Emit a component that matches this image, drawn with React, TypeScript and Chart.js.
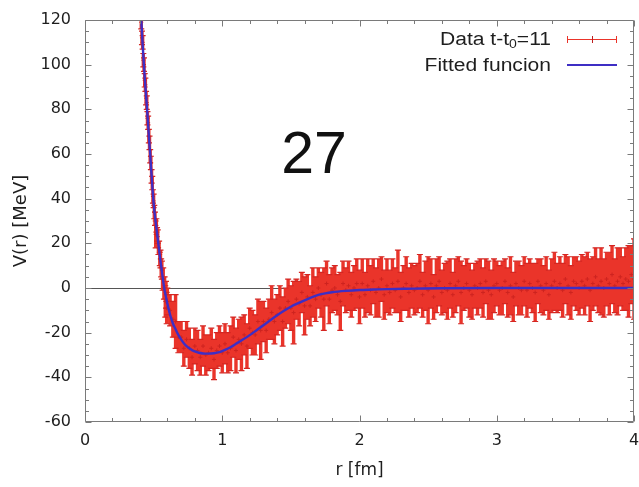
import React, { useEffect, useRef } from "react";
import { Chart, registerables } from "chart.js";

Chart.register(...registerables);

// ---------- data ----------
const xTickValues = [0, 1, 2, 3, 4];
const yTickValues = [-60, -40, -20, 0, 20, 40, 60, 80, 100, 120];

// lattice data points r [fm]
const rData = [
  0.41, 0.415, 0.42, 0.425, 0.43, 0.435, 0.44, 0.445, 0.45, 0.455,
  0.46, 0.465, 0.47, 0.475, 0.48, 0.485, 0.49, 0.495, 0.5, 0.505,
  0.51, 0.515, 0.52, 0.525, 0.53, 0.535, 0.54, 0.545, 0.55, 0.555,
  0.56, 0.565, 0.57, 0.575, 0.58, 0.585, 0.59, 0.595, 0.6,
  0.62, 0.64, 0.66, 0.68, 0.7, 0.72, 0.74, 0.76, 0.78, 0.8,
  0.82, 0.84, 0.86, 0.88, 0.9, 0.92, 0.94, 0.96, 0.98, 1.0,
  1.02, 1.04, 1.06, 1.08, 1.1, 1.12, 1.14, 1.16, 1.18, 1.2,
  1.22, 1.24, 1.26, 1.28, 1.3, 1.32, 1.34, 1.36, 1.38, 1.4,
  1.42, 1.44, 1.46, 1.48, 1.5, 1.52, 1.54, 1.56, 1.58, 1.6,
  1.62, 1.64, 1.66, 1.68, 1.7, 1.72, 1.74, 1.76, 1.78, 1.8,
  1.82, 1.84, 1.86, 1.88, 1.9, 1.92, 1.94, 1.96, 1.98, 2.0,
  2.02, 2.04, 2.06, 2.08, 2.1, 2.12, 2.14, 2.16, 2.18, 2.2,
  2.22, 2.24, 2.26, 2.28, 2.3, 2.32, 2.34, 2.36, 2.38, 2.4,
  2.42, 2.44, 2.46, 2.48, 2.5, 2.52, 2.54, 2.56, 2.58, 2.6,
  2.62, 2.64, 2.66, 2.68, 2.7, 2.72, 2.74, 2.76, 2.78, 2.8,
  2.82, 2.84, 2.86, 2.88, 2.9, 2.92, 2.94, 2.96, 2.98, 3.0,
  3.02, 3.04, 3.06, 3.08, 3.1, 3.12, 3.14, 3.16, 3.18, 3.2,
  3.22, 3.24, 3.26, 3.28, 3.3, 3.32, 3.34, 3.36, 3.38, 3.4,
  3.42, 3.44, 3.46, 3.48, 3.5, 3.52, 3.54, 3.56, 3.58, 3.6,
  3.62, 3.64, 3.66, 3.68, 3.7, 3.72, 3.74, 3.76, 3.78, 3.8,
  3.82, 3.84, 3.86, 3.88, 3.9, 3.92, 3.94, 3.96, 3.98, 4.0,
];

// V(r) [MeV]
const vData = [
  119, 112, 110, 102, 100, 93, 91, 85, 83, 76,
  74, 68, 65, 59, 56, 50, 47, 41, 39, 34,
  31, 24, 28, 24, 23, 18, 18, 13, 13, 9,
  8, 4, 4, 0, 0, -6, -3, -9, -6,
  -10, -14, -15, -22, -22, -27, -23, -27, -31, -26,
  -28, -31, -26, -30, -29, -27, -32, -28, -26, -29,
  -25, -29, -27, -22, -28, -23, -25, -21, -26, -18,
  -20, -21, -15, -19, -15, -19, -14, -11, -15, -12,
  -9, -15, -9, -6, -9, -11, -5, -7, -2, -8,
  -4, -8, -2, -5, 0, -3, -5, 2, -5, -1,
  0, -3, -6, 2, -1, 1, -3, 0, 2, -4,
  2, -3, 1, -1, 3, -2, 0, 4, -3, 1,
  -2, 2, -1, 3, -4, 0, 2, -2, 1, -1,
  0, 3, -3, 1, -1, 2, -4, 1, 3, -2,
  0, -1, 2, -3, 1, 3, -2, 0, 2, -1,
  -3, 1, 0, 2, -2, 3, -1, -3, 1, 2,
  -1, 0, 3, -2, 1, -4, 2, 0, -1, 3,
  -1, 2, 0, -2, 3, 1, -1, 2, -3, 1,
  3, 0, 2, -1, 4, 1, -2, 3, 2, 0,
  3, 1, 4, -1, 2, 5, 1, 3, 0, 4,
  2, 6, 1, 3, 5, 2, 4, 3, 6, 4,
];

// statistical errors [MeV]
const errData = [
  3, 3, 3, 3, 3, 3, 3, 3, 3, 3,
  3, 3, 3, 3, 3, 3, 3, 3, 3, 3,
  3, 6, 3, 3, 3, 3, 3, 3, 4, 4,
  4, 5, 5, 5, 5, 7, 6, 7, 6,
  7, 8, 12, 7, 7, 8, 8, 9, 8, 8,
  9, 8, 9, 9, 8, 9, 9, 8, 9, 9,
  9, 9, 10, 9, 10, 9, 12, 9, 10, 9,
  10, 9, 10, 13, 9, 10, 9, 12, 10, 9,
  10, 11, 9, 10, 10, 14, 9, 10, 9, 13,
  10, 9, 11, 10, 9, 10, 14, 10, 11, 10,
  10, 9, 13, 10, 10, 11, 10, 10, 11, 12,
  11, 10, 12, 11, 10, 11, 13, 10, 11, 12,
  10, 11, 10, 14, 11, 10, 12, 11, 10, 11,
  11, 12, 10, 11, 15, 11, 10, 12, 11, 10,
  11, 13, 11, 10, 12, 11, 14, 10, 11, 12,
  11, 10, 12, 11, 11, 10, 13, 11, 12, 10,
  11, 12, 10, 11, 13, 11, 10, 12, 11, 11,
  12, 11, 11, 13, 10, 12, 11, 12, 11, 12,
  13, 11, 12, 12, 11, 13, 12, 11, 12, 12,
  12, 13, 12, 14, 12, 13, 12, 15, 13, 12,
  14, 13, 12, 15, 13, 12, 14, 16, 13, 18,
];

// fitted function
const rFit = [
  0.41, 0.42, 0.43, 0.44, 0.45, 0.46, 0.47, 0.475, 0.48, 0.49,
  0.5, 0.51, 0.52, 0.53, 0.54, 0.55, 0.56, 0.57, 0.58, 0.59,
  0.6, 0.62, 0.64, 0.66, 0.68, 0.7, 0.72, 0.74, 0.76, 0.78,
  0.8, 0.83, 0.86, 0.9, 0.94, 0.98, 1.02, 1.06, 1.1, 1.15,
  1.2, 1.25, 1.3, 1.35, 1.4, 1.45, 1.5, 1.55, 1.6, 1.65,
  1.7, 1.75, 1.8, 1.9, 2.0, 2.1, 2.2, 2.4, 2.6, 3.0,
  3.5, 4.0,
];
const vFit = [
  120, 109, 99, 90, 82, 73, 64, 60, 55, 46,
  38, 32, 27, 22, 17, 12, 7.5, 3, -1, -4,
  -7, -12, -15.8, -18.5, -21, -23, -24.7, -26, -27, -27.8,
  -28.4, -29, -29.3, -29.4, -29.2, -28.7, -27.7, -26.5, -25, -23.1,
  -21.1, -18.9, -16.7, -14.4, -12.2, -10.2, -8.4, -6.9, -5.5, -4.2,
  -3.1, -2.4, -1.9, -1.3, -0.9, -0.7, -0.5, -0.3, -0.1, 0,
  0, 0,
];

const legendDataMain = "Data t-t";
const legendDataSub = "0";
const legendDataTail = "=11";
const legendFit = "Fitted funcion";
const xTitle = "r [fm]";
const yTitle = "V(r) [MeV]";
const bigLabel = "27";

// ---------- styles ----------
const RED = "rgb(234,52,42)";
const RED_CAP = "rgb(212,38,34)";
const RED_DARK = "rgb(190,30,30)";
const BLUE = "rgb(62,46,196)";
const FRAME = "#7a7a7a";
const TEXT = "#1e1e1e";

const W = 639;
const H = 487;

const decorPlugin = {
  id: "decor",
  beforeDatasetsDraw(chart: any) {
    const { ctx, chartArea: a, scales } = chart;
    const x = scales.x;
    const y = scales.y;
    ctx.save();
    ctx.beginPath();
    ctx.rect(a.left, a.top, a.right - a.left, a.bottom - a.top);
    ctx.clip();
    // zero line
    const y0 = Math.round(y.getPixelForValue(0)) + 0.5;
    ctx.strokeStyle = "#555555";
    ctx.lineWidth = 1;
    ctx.beginPath();
    ctx.moveTo(a.left, y0);
    ctx.lineTo(a.right, y0);
    ctx.stroke();
    // error bars
    ctx.strokeStyle = RED;
    ctx.lineWidth = 3.4;
    ctx.beginPath();
    for (let i = 0; i < rData.length; i++) {
      const px = x.getPixelForValue(rData[i]);
      ctx.moveTo(px, y.getPixelForValue(vData[i] - errData[i]));
      ctx.lineTo(px, y.getPixelForValue(vData[i] + errData[i]));
    }
    ctx.stroke();
    ctx.strokeStyle = RED_CAP;
    ctx.lineWidth = 1.2;
    ctx.beginPath();
    for (let i = 0; i < rData.length; i++) {
      const px = x.getPixelForValue(rData[i]);
      const yl = y.getPixelForValue(vData[i] - errData[i]);
      const yh = y.getPixelForValue(vData[i] + errData[i]);
      ctx.moveTo(px - 3, yl);
      ctx.lineTo(px + 3, yl);
      ctx.moveTo(px - 3, yh);
      ctx.lineTo(px + 3, yh);
    }
    ctx.stroke();
    ctx.restore();
  },
  afterDatasetsDraw(chart: any) {
    const { ctx, chartArea: a, scales } = chart;
    const x = scales.x;
    const y = scales.y;
    const L = Math.round(a.left) + 0.5;
    const R = Math.round(a.right) - 0.5;
    const T = Math.round(a.top) + 0.5;
    const B = Math.round(a.bottom) - 0.5;
    ctx.save();
    ctx.strokeStyle = FRAME;
    ctx.lineWidth = 1;
    ctx.beginPath();
    ctx.rect(L, T, R - L, B - T);
    // x ticks (major each 1, minor each 0.2), inward, top and bottom
    for (let k = 0; k <= 20; k++) {
      const v = k / 5;
      const px = Math.round(x.getPixelForValue(v)) + 0.5;
      const len = k % 5 === 0 ? 6 : 3.5;
      ctx.moveTo(px, B);
      ctx.lineTo(px, B - len);
      ctx.moveTo(px, T);
      ctx.lineTo(px, T + len);
    }
    // y ticks (major each 20, minor each 5)
    for (let k = 0; k <= 36; k++) {
      const v = -60 + k * 5;
      const py = Math.round(y.getPixelForValue(v)) + 0.5;
      const len = k % 4 === 0 ? 6 : 3.5;
      ctx.moveTo(L, py);
      ctx.lineTo(L + len, py);
      ctx.moveTo(R, py);
      ctx.lineTo(R - len, py);
    }
    ctx.stroke();

    // legend
    const sx = 1.17;
    ctx.fillStyle = TEXT;
    ctx.textBaseline = "alphabetic";
    const rightX = 551;
    const y1 = 45;
    const y2 = 71;
    ctx.font = '18px "Liberation Sans", Arial, sans-serif';
    const wTail = ctx.measureText(legendDataTail).width;
    ctx.font = '12px "Liberation Sans", Arial, sans-serif';
    const wSub = ctx.measureText(legendDataSub).width;
    ctx.save();
    ctx.translate(rightX, y1);
    ctx.scale(sx, 1);
    ctx.textAlign = "right";
    ctx.font = '18px "Liberation Sans", Arial, sans-serif';
    ctx.fillText(legendDataTail, 0, 0);
    ctx.font = '12px "Liberation Sans", Arial, sans-serif';
    ctx.fillText(legendDataSub, -wTail, 3);
    ctx.font = '18px "Liberation Sans", Arial, sans-serif';
    ctx.fillText(legendDataMain, -wTail - wSub, 0);
    ctx.restore();
    ctx.save();
    ctx.translate(rightX, y2);
    ctx.scale(sx, 1);
    ctx.textAlign = "right";
    ctx.font = '18px "Liberation Sans", Arial, sans-serif';
    ctx.fillText(legendFit, 0, 0);
    ctx.restore();

    // legend samples
    const s0 = 567;
    const s1 = 617;
    ctx.strokeStyle = RED;
    ctx.lineWidth = 1;
    ctx.beginPath();
    ctx.moveTo(s0, 39.5);
    ctx.lineTo(s1, 39.5);
    ctx.moveTo(s0 + 0.5, 36);
    ctx.lineTo(s0 + 0.5, 43);
    ctx.moveTo(s1 - 0.5, 36);
    ctx.lineTo(s1 - 0.5, 43);
    ctx.stroke();
    ctx.strokeStyle = RED_DARK;
    ctx.beginPath();
    ctx.moveTo(592.5, 36);
    ctx.lineTo(592.5, 43);
    ctx.stroke();
    ctx.strokeStyle = BLUE;
    ctx.lineWidth = 2;
    ctx.beginPath();
    ctx.moveTo(s0, 65);
    ctx.lineTo(s1, 65);
    ctx.stroke();

    // big number
    ctx.fillStyle = "#111";
    ctx.textAlign = "center";
    ctx.font = '59px "Liberation Sans", Arial, sans-serif';
    ctx.fillText(bigLabel, 314, 173);
    ctx.restore();
  },
};

export default function App() {
  const canvasRef = useRef<HTMLCanvasElement | null>(null);

  useEffect(() => {
    const canvas = canvasRef.current;
    if (!canvas) return;
    const points = rData.map((r, i) => ({ x: r, y: vData[i] }));
    const fit = rFit.map((r, i) => ({ x: r, y: vFit[i] }));
    const chart = new Chart(canvas, {
      type: "scatter",
      data: {
        datasets: [
          {
            label: legendFit,
            data: fit,
            showLine: true,
            borderColor: BLUE,
            borderWidth: 2.4,
            pointRadius: 0,
            cubicInterpolationMode: "monotone",
            fill: false,
          } as any,
          {
            label: legendDataMain + legendDataSub + legendDataTail,
            data: points,
            showLine: false,
            pointStyle: "cross",
            pointRadius: 2,
            borderColor: "rgb(205,36,32)",
            borderWidth: 1,
            backgroundColor: "rgb(205,36,32)",
          } as any,
        ],
      },
      options: {
        responsive: false,
        animation: false,
        devicePixelRatio: 1,
        layout: { padding: { top: 20, right: 2, left: 0, bottom: 0 } },
        plugins: {
          legend: { display: false },
          tooltip: { enabled: false },
        },
        scales: {
          x: {
            type: "linear",
            min: 0,
            max: 4,
            afterBuildTicks: (s: any) => {
              s.ticks = xTickValues.map((v) => ({ value: v }));
            },
            afterFit: (s: any) => {
              s.height = 65;
              s.paddingLeft = 0;
              s.paddingRight = 0;
            },
            grid: { display: false, drawTicks: false },
            border: { display: false },
            ticks: {
              autoSkip: false,
              maxRotation: 0,
              padding: 9,
              color: TEXT,
              font: { family: '"DejaVu Sans", sans-serif', size: 16 },
            },
            title: {
              display: true,
              text: xTitle,
              color: TEXT,
              font: { family: '"DejaVu Sans", sans-serif', size: 17 },
              padding: { top: 0, bottom: 6 },
            },
          },
          y: {
            type: "linear",
            min: -60,
            max: 120,
            afterBuildTicks: (s: any) => {
              s.ticks = yTickValues.map((v) => ({ value: v }));
            },
            afterFit: (s: any) => {
              s.width = 85;
              s.paddingTop = 0;
              s.paddingBottom = 0;
            },
            grid: { display: false, drawTicks: false },
            border: { display: false },
            ticks: {
              autoSkip: false,
              padding: 14,
              color: TEXT,
              font: { family: '"DejaVu Sans", sans-serif', size: 16 },
            },
            title: {
              display: true,
              text: yTitle,
              color: TEXT,
              font: { family: '"DejaVu Sans", sans-serif', size: 18 },
              padding: { top: 11, bottom: 0 },
            },
          },
        },
      },
      plugins: [decorPlugin],
    } as any);
    return () => chart.destroy();
  }, []);

  return (
    <div style={{ position: "absolute", left: 0, top: 0, width: W, height: H, background: "#fff" }}>
      <canvas ref={canvasRef} width={W} height={H} style={{ display: "block", width: W, height: H }} />
    </div>
  );
}
